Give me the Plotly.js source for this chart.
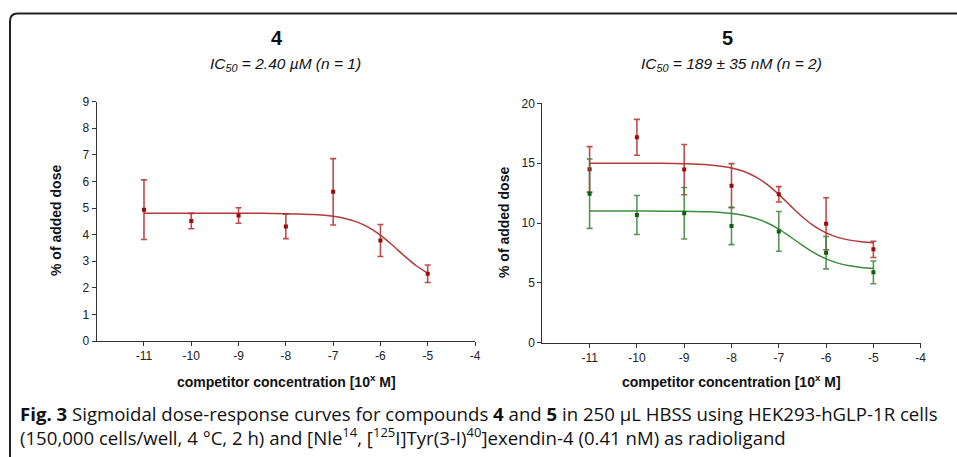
<!DOCTYPE html>
<html>
<head>
<meta charset="utf-8">
<script src="https://cdn.plot.ly/plotly-3.0.1.min.js"></script>
<style>html,body{margin:0;padding:0;background:#fff;}#chart{width:957px;height:457px;}</style>
</head>
<body>
<div id="chart"></div>
<script>
// ---- data ----
const doseX = [-11, -10, -9, -8, -7, -6, -5];
const c4Mean = [4.94, 4.51, 4.72, 4.31, 5.61, 3.78, 2.53];
const c4Err  = [1.12, 0.29, 0.29, 0.46, 1.25, 0.60, 0.33];
const c5aMean = [14.48, 17.16, 14.46, 13.12, 12.40, 9.94, 7.80];
const c5aErr  = [1.90, 1.50, 2.10, 1.84, 0.64, 2.17, 0.68];
const c5bMean = [12.45, 10.67, 10.81, 9.75, 9.30, 7.52, 5.88];
const c5bErr  = [2.90, 1.63, 2.15, 1.56, 1.66, 1.35, 0.95];

// fitted curves
const fitX = [-11, -10.5, -10, -9.5, -9, -8.5, -8, -7.75, -7.5, -7.25, -7, -6.75, -6.5, -6.25, -6, -5.75, -5.5, -5.25, -5];
const c4Fit  = [4.80, 4.80, 4.80, 4.80, 4.80, 4.80, 4.79, 4.78, 4.76, 4.74, 4.69, 4.61, 4.48, 4.27, 3.98, 3.61, 3.21, 2.84, 2.55];
const c5aFit = [15.00, 15.00, 15.00, 14.99, 14.96, 14.87, 14.60, 14.32, 13.88, 13.23, 12.39, 11.43, 10.50, 9.73, 9.17, 8.80, 8.57, 8.44, 8.36];
const c5bFit = [11.00, 11.00, 11.00, 10.99, 10.98, 10.93, 10.79, 10.64, 10.39, 10.02, 9.49, 8.83, 8.13, 7.50, 7.00, 6.65, 6.42, 6.29, 6.21];

const xTicks = [-11, -10, -9, -8, -7, -6, -5, -4];
const xTickText = ['-11', '-10', '-9', '-8', '-7', '-6', '-5', '-4'];
const panelTitles = ['4', '5'];
const panelSubtitles = ['<i>IC<sub>50</sub> = 2.40 µM (n = 1)</i>', '<i>IC<sub>50</sub> = 189 ± 35 nM (n = 2)</i>'];
const xTitle = '<b>competitor concentration [10<sup>x</sup> M]</b>';
const yTitle = '<b>% of added dose</b>';
const caption = '<b>Fig. 3</b> Sigmoidal dose-response curves for compounds <b>4</b> and <b>5</b> in 250 µL HBSS using HEK293-hGLP-1R cells<br>(150,000 cells/well, 4 °C, 2 h) and [Nle<sup>14</sup>, [<sup>125</sup>I]Tyr(3-I)<sup>40</sup>]exendin-4 (0.41 nM) as radioligand';

// ---- styling ----
const W = 957, H = 457;
const px = x => x / W;
const py = y => (H - y) / H;
const RED_LINE = '#b23a3a', RED_MK = '#9a0a0a', RED_ERR = 'rgba(180,45,45,0.85)';
const GRN_LINE = '#3e8c3e', GRN_MK = '#0d5f0d', GRN_ERR = 'rgba(60,130,60,0.85)';

function pts(x, y, err, mk, ec, xa, ya) {
  return {x: x, y: y, xaxis: xa, yaxis: ya, type: 'scatter', mode: 'markers',
    marker: {symbol: 'square', size: 4, color: mk},
    error_y: {type: 'data', array: err, visible: true, color: ec, thickness: 1.6, width: 3},
    showlegend: false, hoverinfo: 'skip'};
}
function curve(x, y, col, xa, ya) {
  return {x: x, y: y, xaxis: xa, yaxis: ya, type: 'scatter', mode: 'lines',
    line: {color: col, width: 1.5, shape: 'spline', smoothing: 0.8},
    showlegend: false, hoverinfo: 'skip'};
}

const data = [
  curve(fitX, c4Fit, RED_LINE, 'x', 'y'),
  pts(doseX, c4Mean, c4Err, RED_MK, RED_ERR, 'x', 'y'),
  curve(fitX, c5aFit, RED_LINE, 'x2', 'y2'),
  pts(doseX, c5aMean, c5aErr, RED_MK, RED_ERR, 'x2', 'y2'),
  curve(fitX, c5bFit, GRN_LINE, 'x2', 'y2'),
  pts(doseX, c5bMean, c5bErr, GRN_MK, GRN_ERR, 'x2', 'y2')
];

const tickFont = {family: 'Liberation Sans, Arial, sans-serif', size: 12, color: '#222'};
function xax(dom) {
  return {domain: dom, range: [-12, -4], tickmode: 'array', tickvals: xTicks, ticktext: xTickText,
    showline: true, linecolor: '#333', linewidth: 1, ticks: 'outside', ticklen: 4, tickcolor: '#333',
    showgrid: false, zeroline: false, tickfont: tickFont, fixedrange: true};
}
function yax(dom, max, dt, anchor) {
  return {domain: dom, range: [0, max], dtick: dt, tick0: 0, anchor: anchor,
    showline: true, linecolor: '#333', linewidth: 1, ticks: 'outside', ticklen: 4, tickcolor: '#333',
    showgrid: false, zeroline: false, tickfont: tickFont, fixedrange: true};
}

const titleFont = {family: 'Liberation Sans, Arial, sans-serif', size: 20, color: '#111'};
const subFont = {family: 'Liberation Sans, Arial, sans-serif', size: 15.5, color: '#111'};
const axFont = {family: 'Liberation Sans, Arial, sans-serif', size: 14, color: '#111'};
const capFont = {family: 'Open Sans, Noto Sans, sans-serif', size: 18.6, color: '#111'};

function ann(x, y, text, font, extra) {
  return Object.assign({xref: 'paper', yref: 'paper', x: px(x), y: py(y), text: text, showarrow: false,
    font: font, xanchor: 'center', yanchor: 'middle'}, extra || {});
}

const annotations = [
  ann(277, 38, '<b>' + panelTitles[0] + '</b>', titleFont),
  ann(285, 64, panelSubtitles[0], subFont),
  ann(727, 38, '<b>' + panelTitles[1] + '</b>', titleFont),
  ann(731, 64, panelSubtitles[1], subFont),
  ann(286, 381, xTitle, axFont),
  ann(731, 381, xTitle, axFont),
  ann(56, 221, yTitle, axFont, {textangle: -90}),
  ann(504, 223, yTitle, axFont, {textangle: -90}),
  ann(18, 425, caption, capFont, {xanchor: 'left', align: 'left'})
];

const r = 7.5;
const borderPath = 'M ' + px(10) + ',' + py(457) + ' L ' + px(10) + ',' + py(13.5 + r) +
  ' Q ' + px(10) + ',' + py(13.5) + ' ' + px(10 + r) + ',' + py(13.5) + ' L ' + px(957) + ',' + py(13.5);

const layout = {
  width: W, height: H, margin: {l: 0, r: 0, t: 0, b: 0},
  paper_bgcolor: '#fff', plot_bgcolor: '#fff',
  xaxis: xax([px(96.7), px(475)]),
  yaxis: yax([py(341), py(101.7)], 9, 1, 'x'),
  xaxis2: xax([px(542.3), px(920.7)]),
  yaxis2: yax([py(342.7), py(103.3)], 20, 5, 'x2'),
  annotations: annotations,
  shapes: [{type: 'path', xref: 'paper', yref: 'paper', path: borderPath, line: {color: '#222', width: 2}}],
  showlegend: false
};
layout.xaxis.anchor = 'y';
layout.xaxis2.anchor = 'y2';

Plotly.newPlot('chart', data, layout, {staticPlot: true, displayModeBar: false});
</script>
</body>
</html>
